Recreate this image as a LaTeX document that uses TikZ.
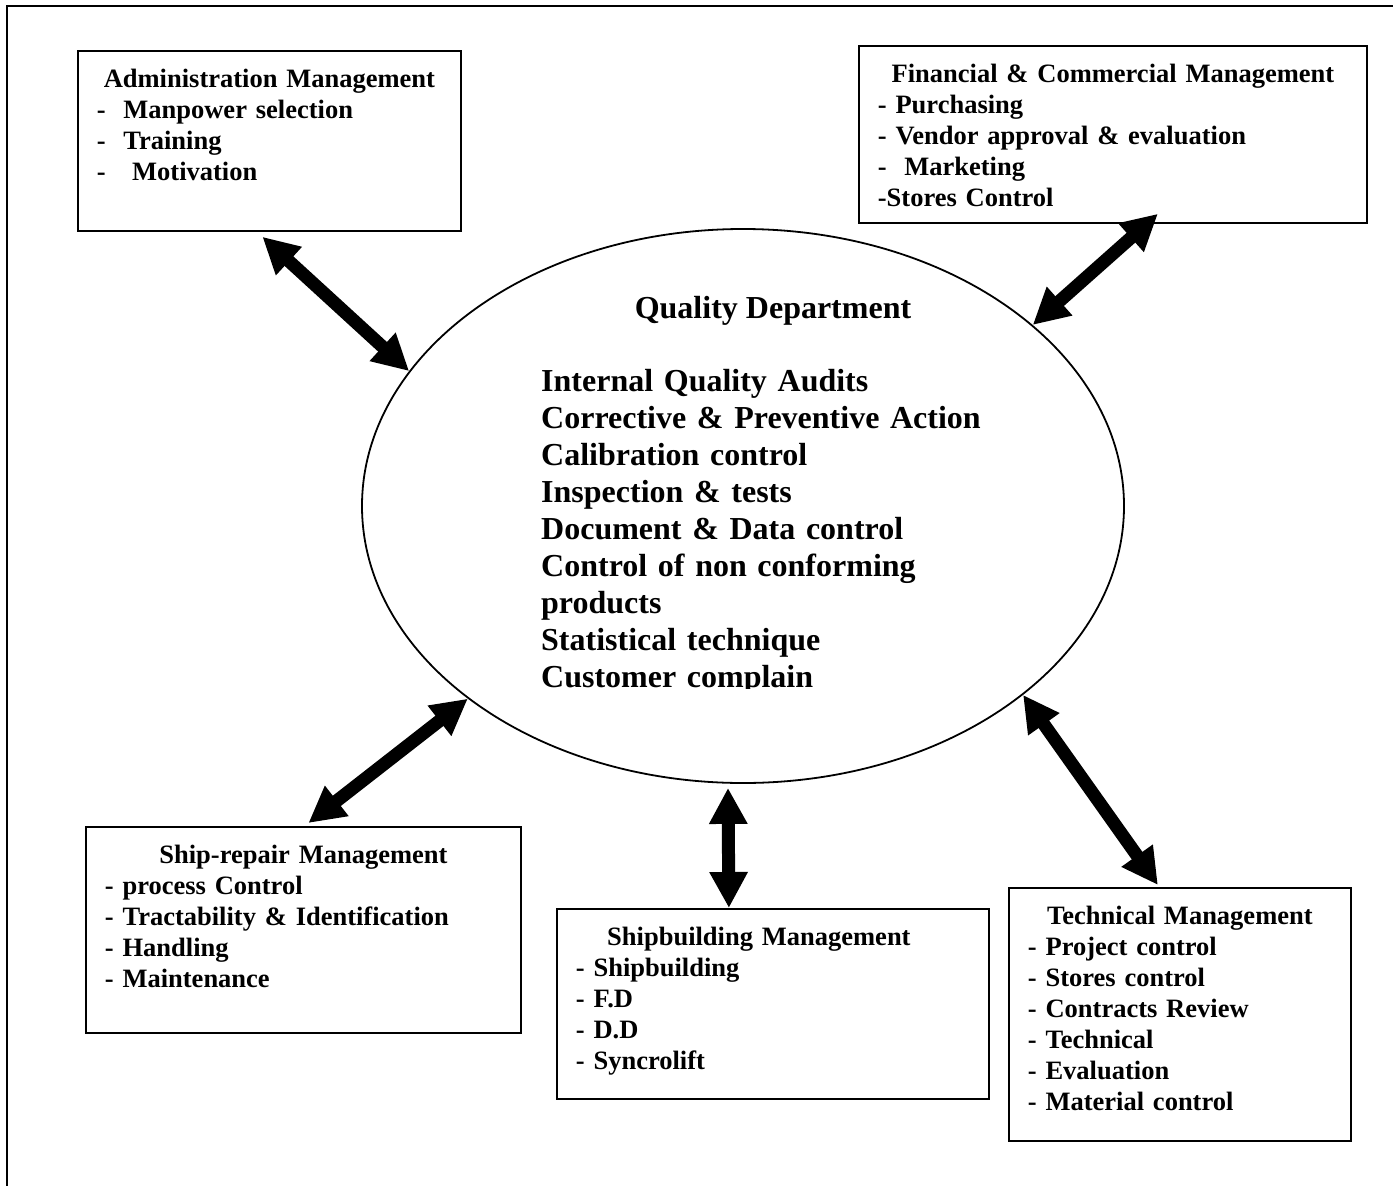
\documentclass[tikz,border=0pt]{standalone}
\usepackage{fontspec}
\setmainfont{Liberation Serif}
\usetikzlibrary{shapes.geometric, arrows.meta}

\begin{document}
\begin{tikzpicture}[x=1pt, y=-1pt]
    \useasboundingbox (0,0) rectangle (1393,1186);
    % --- STYLES ---
    \tikzstyle{dept} = [rectangle, draw=black, line width=1.8pt, anchor=north west, inner xsep=19pt, inner ysep=0pt, text height=37pt, align=left, font=\fontsize{26.5pt}{31pt}\selectfont\bfseries]
    \tikzstyle{quality} = [ellipse, draw=black, line width=1.8pt, minimum width=762pt, minimum height=554pt, inner sep=0pt]
    \tikzstyle{qtext} = [inner sep=0pt, font=\fontsize{32pt}{37pt}\selectfont\bfseries]
    \tikzstyle{link} = [line width=13pt, {Triangle[width=36pt,length=36pt]}-{Triangle[width=36pt,length=36pt]}]

    % --- FRAME ---
    \draw[line width=2pt] (1393,6) -- (7,6) -- (7,1186);

    % --- NODES ---
    \node (qd) [quality] at (743,506) {};
    \node (qdtitle) [qtext, anchor=base] at (773,318) {Quality Department};
    % last line of the list is cut off by its text frame
    \begin{scope}
        \clip (500,340) rectangle (1000,688);
        \node (qdlist) [qtext, anchor=base west, text width=440pt, align=left] at (541,391)
            {Internal Quality Audits\\ Corrective \& Preventive Action\\ Calibration control\\
             Inspection \& tests\\ Document \& Data control\\ Control of non conforming\\
             products\\ Statistical technique\\ Customer complain};
    \end{scope}

    \node (admin) [dept, text width=345pt, text depth=143pt] at (77,50)
        {\centering Administration Management\par
         \raggedright -\ \ Manpower selection\\ -\ \ Training\\ -\ \ \ Motivation};
    \node (fin) [dept, text width=470pt, text depth=140pt] at (858,45)
        {\centering Financial \& Commercial Management\par
         \raggedright - Purchasing\\ - Vendor approval \& evaluation\\ -\ \ Marketing\\ -Stores Control};
    \node (repair) [dept, text width=397pt, text depth=169pt] at (85,826)
        {\centering Ship-repair Management\par
         \raggedright - process Control\\ - Tractability \& Identification\\ - Handling\\ - Maintenance};
    \node (build) [dept, text width=394pt, text depth=153pt] at (556,908)
        {\centering Shipbuilding Management\hspace*{28pt}\par
         \raggedright - Shipbuilding\\ - F.D\\ - D.D\\ - Syncrolift};
    \node (tech) [dept, text width=304pt, text depth=216pt] at (1008,887)
        {\centering Technical Management\par
         \raggedright - Project control\\ - Stores control\\ - Contracts Review\\ - Technical\\ - Evaluation\\ - Material control};

    % --- ARROWS ---
    \draw[link] ([xshift=-7pt,yshift=-5pt]admin.south) -- (qd.158);
    \draw[link] ([xshift=45pt,yshift=10pt]fin.south) -- (qd.32);
    \draw[link] ([xshift=5pt,yshift=3pt]repair.north) -- (qd.215);
    \draw[link] ([xshift=-44pt]build.north) -- ([xshift=-15pt,yshift=-4pt]qd.south);
    \draw[link] ([xshift=-22pt,yshift=2pt]tech.north) -- (qd.326);

\end{tikzpicture}
\end{document}
